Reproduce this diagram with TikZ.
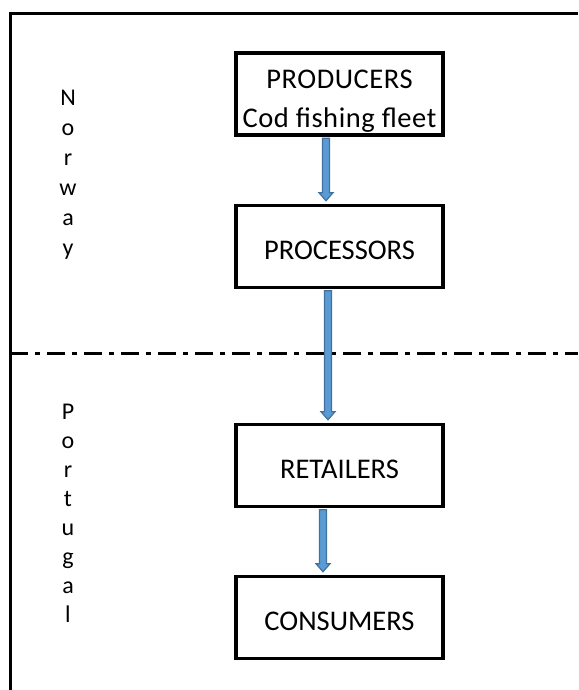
\documentclass[tikz,border=0pt]{standalone}
\usepackage{fontspec}
\setmainfont{Carlito}
\usetikzlibrary{calc}
\definecolor{arrfill}{HTML}{5B9BD5}
\definecolor{arrline}{HTML}{41719C}
\begin{document}
\begin{tikzpicture}[x=1pt,y=1pt,
  stagebox/.style={draw=black,line width=3.5pt,minimum width=207pt,minimum height=82pt,
    align=center,font=\fontsize{28.5}{38}\selectfont,inner sep=0pt},
  sidetext/.style={align=center,inner sep=0pt},
  blockarrow/.style={fill=arrfill,draw=arrline,line width=1.2pt,line join=miter}]
\useasboundingbox (0,0) rectangle (578,-690);
% frame
\draw[line width=3pt] (578,-14) -- (10,-14) -- (10,-690);
% border between countries
\draw[line width=3pt,dash pattern=on 18pt off 7pt on 5pt off 7pt] (10,-353) -- (578,-353);
% boxes
\node[stagebox] (prod) at (339.5,-94) {\rule{0pt}{32pt}\addfontfeatures{LetterSpace=2}PRODUCERS\\[1pt]\addfontfeatures{LetterSpace=2}Cod fishing fleet};
\node[stagebox] (proc) at (339.5,-246.5) {\rule{0pt}{26pt}PROCESSORS};
\node[stagebox] (ret) at (339.5,-465.5) {\rule{0pt}{26pt}RETAILERS};
\node[stagebox] (cons) at (339.5,-617.5) {\rule{0pt}{26pt}CONSUMERS};
% side labels
\node[sidetext,font=\fontsize{24}{30}\selectfont] (nor) at (68,-175) {N\\o\\r\\w\\a\\y};
\node[sidetext,font=\fontsize{24}{29}\selectfont] (por) at (68,-513) {P\\o\\r\\t\\u\\g\\a\\l};
% arrows
\newcommand{\blockarr}[3]{%
  \path[blockarrow] let \p1=($(#1.south)+(#3,-1.5)$), \p2=($(#2.north)+(#3,3)$) in
    (\x1-3.5pt,\y1) -- (\x1+3.5pt,\y1) -- (\x1+3.5pt,\y2+8pt) -- (\x1+7pt,\y2+8pt)
    -- (\x1,\y2) -- (\x1-7pt,\y2+8pt) -- (\x1-3.5pt,\y2+8pt) -- cycle;}
\blockarr{prod}{proc}{-13.5}
\blockarr{proc}{ret}{-11.5}
\blockarr{ret}{cons}{-16.5}
\end{tikzpicture}
\end{document}
